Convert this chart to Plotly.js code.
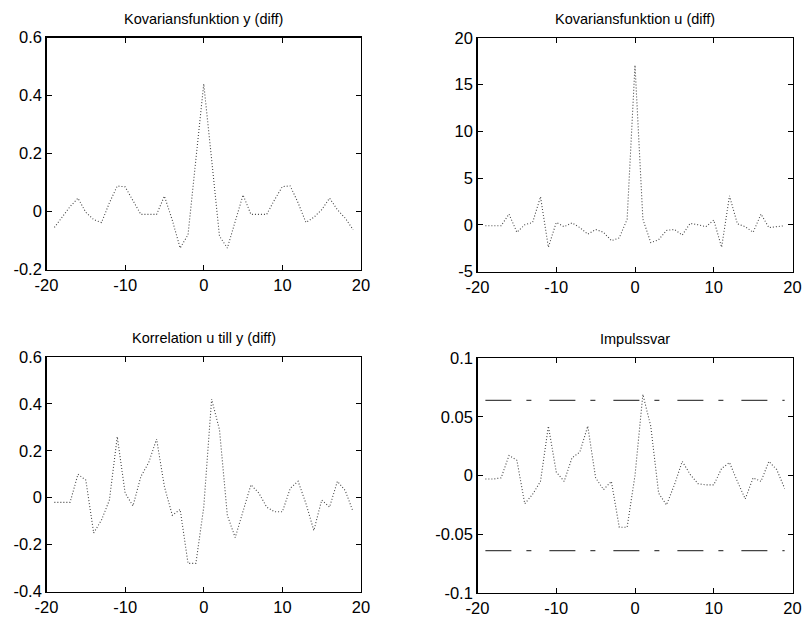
<!DOCTYPE html>
<html>
<head>
<meta charset="utf-8">
<script src="https://cdn.plot.ly/plotly-3.0.1.min.js"></script>
<style>html,body{margin:0;padding:0;background:#fff;}#plot{width:805px;height:621px;}</style>
</head>
<body>
<div id="plot"></div>
<script>
const lags = [-19,-18,-17,-16,-15,-14,-13,-12,-11,-10,-9,-8,-7,-6,-5,-4,-3,-2,-1,0,1,2,3,4,5,6,7,8,9,10,11,12,13,14,15,16,17,18,19];
const covY = [-0.055,-0.02,0.017,0.046,-0.003,-0.028,-0.038,0.03,0.088,0.085,0.035,-0.01,-0.01,-0.01,0.053,-0.03,-0.126,-0.08,0.18,0.44,0.18,-0.085,-0.126,-0.033,0.057,-0.01,-0.01,-0.01,0.04,0.086,0.088,0.03,-0.038,-0.02,0.006,0.046,0.006,-0.023,-0.063];
const covU = [-0.1,-0.1,-0.1,1.15,-0.8,0,0.25,3.0,-2.4,0.25,-0.2,0.2,-0.3,-1.0,-0.5,-0.8,-1.7,-1.4,0.6,17.1,0.6,-1.9,-1.6,-0.6,-0.5,-1.1,0.15,0,-0.2,0.5,-2.4,3.1,0.1,-0.2,-0.8,1.15,-0.3,-0.2,-0.1];
const corrUY = [-0.02,-0.02,-0.02,0.1,0.075,-0.15,-0.095,-0.01,0.26,0.02,-0.035,0.09,0.15,0.25,0.047,-0.075,-0.05,-0.28,-0.28,-0.04,0.42,0.29,-0.075,-0.17,-0.06,0.055,0.02,-0.04,-0.06,-0.06,0.04,0.07,-0.025,-0.14,-0.01,-0.04,0.07,0.03,-0.06];
const impulse = [-0.003,-0.003,-0.002,0.017,0.013,-0.024,-0.016,-0.005,0.042,0.003,-0.005,0.015,0.02,0.042,-0.002,-0.012,-0.005,-0.044,-0.044,0.0,0.069,0.042,-0.015,-0.025,-0.008,0.012,0.001,-0.007,-0.008,-0.008,0.006,0.011,-0.005,-0.02,-0.002,-0.005,0.012,0.005,-0.011];
const confX = [-19, 19];
const confLevel = 0.064;

const titles = ["Kovariansfunktion y (diff)", "Kovariansfunktion u (diff)", "Korrelation u till y (diff)", "Impulssvar"];
const yRanges = [[-0.2,0.6],[-5,20],[-0.4,0.6],[-0.1,0.1]];
const yTicks = [[-0.2,0,0.2,0.4,0.6],[-5,0,5,10,15,20],[-0.4,-0.2,0,0.2,0.4,0.6],[-0.1,-0.05,0,0.05,0.1]];
const yTickText = [["-0.2","0","0.2","0.4","0.6"],["-5","0","5","10","15","20"],["-0.4","-0.2","0","0.2","0.4","0.6"],["-0.1","-0.05","0","0.05","0.1"]];
const xTicks = [-20,-10,0,10,20];

const W = 805, H = 621;
const boxes = [[46.5,361,37.5,269.5],[477.5,792.5,38,271.5],[46.5,361,357,591.5],[477.5,792.5,358,593]];

const tickFont = {family: "Liberation Sans, Arial, sans-serif", size: 16.5, color: "#000"};
const titleFont = {family: "Liberation Sans, Arial, sans-serif", size: 14.5, color: "#000"};
const lineStyle = {color: "#444", width: 1.1, dash: "1px,2px"};
const series = [covY, covU, corrUY, impulse];

const traces = [];
const layout = {
  width: W, height: H, margin: {l:0,r:0,t:0,b:0},
  paper_bgcolor: "#fff", plot_bgcolor: "#fff", showlegend: false,
  font: tickFont, annotations: []
};
for (let i = 0; i < 4; i++) {
  const n = i + 1;
  const xa = n === 1 ? "x" : "x" + n;
  const ya = n === 1 ? "y" : "y" + n;
  traces.push({x: lags, y: series[i], type: "scatter", mode: "lines", line: lineStyle, xaxis: xa, yaxis: ya, hoverinfo: "skip"});
  const b = boxes[i];
  const common = {showline: true, linecolor: "#000", linewidth: 1.3, mirror: "ticks", ticks: "inside", ticklen: 5, tickwidth: 1, tickcolor: "#000", showgrid: false, zeroline: false, tickfont: tickFont, fixedrange: true};
  layout["xaxis" + (n === 1 ? "" : n)] = Object.assign({}, common, {domain: [b[0]/W, b[1]/W], range: [-20,20], tickvals: xTicks, ticktext: xTicks.map(String), anchor: ya});
  layout["yaxis" + (n === 1 ? "" : n)] = Object.assign({}, common, {domain: [1 - b[3]/H, 1 - b[2]/H], range: yRanges[i], tickvals: yTicks[i], ticktext: yTickText[i], anchor: xa});
  layout.annotations.push({text: titles[i], xref: "paper", yref: "paper", x: (b[0]+b[1])/2/W, y: 1 - (b[2]-19)/H, showarrow: false, font: titleFont, xanchor: "center", yanchor: "middle"});
}
// confidence bands on the impulse response
[confLevel, -confLevel].forEach(c => {
  traces.push({x: confX, y: [c, c], type: "scatter", mode: "lines", line: {color: "#444", width: 1.2, dash: "26px,15px,5px,18px"}, xaxis: "x4", yaxis: "y4", hoverinfo: "skip"});
});
Plotly.newPlot("plot", traces, layout, {displayModeBar: false, staticPlot: true});
</script>
</body>
</html>
